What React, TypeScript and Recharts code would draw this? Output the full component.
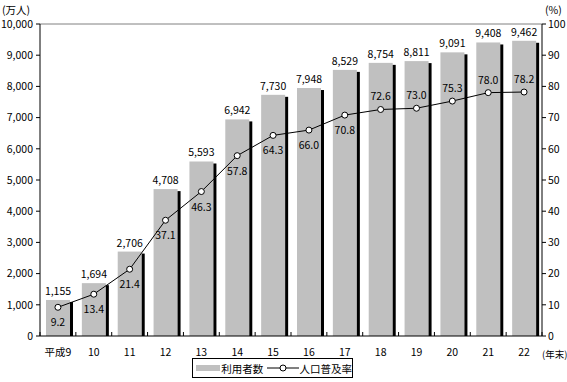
import { ComposedChart, Bar, Line, XAxis, YAxis, LabelList, ReferenceLine, Label } from 'recharts';

const years = ['平成9', '10', '11', '12', '13', '14', '15', '16', '17', '18', '19', '20', '21', '22'];
const users = [1155, 1694, 2706, 4708, 5593, 6942, 7730, 7948, 8529, 8754, 8811, 9091, 9408, 9462];
const rate = [9.2, 13.4, 21.4, 37.1, 46.3, 57.8, 64.3, 66.0, 70.8, 72.6, 73.0, 75.3, 78.0, 78.2];
const leftTicks = [0, 1000, 2000, 3000, 4000, 5000, 6000, 7000, 8000, 9000, 10000];
const rightTicks = [0, 10, 20, 30, 40, 50, 60, 70, 80, 90, 100];

const data = years.map((year, i) => ({ year, users: users[i], rate: rate[i] }));

const font = "'Noto Sans CJK JP', sans-serif";

const ShadowBar = (props: any) => {
    const { x, y, width, height } = props;
    if (!height || height <= 0) return null;
    return (
        <g>
            <rect x={x} y={y} width={width} height={height} fill="#c0c0c0" />
            <rect x={x + width} y={y + 2} width={3} height={height - 2} fill="#000" />
        </g>
    );
};

const XTick = (props: any) => {
    const { x, y, payload, index } = props;
    const off = payload && payload.offset ? payload.offset : 502 / 28;
    return (
        <g>
            {index === 0 && <line x1={x - off} y1={y} x2={x - off} y2={y - 4} stroke="#000" />}
            <line x1={x + off} y1={y} x2={x + off} y2={y - 4} stroke="#000" />
            <text x={x} y={y + 20} textAnchor="middle" fontSize={10.5} fontFamily={font} fill="#000">
                {payload.value}
            </text>
        </g>
    );
};

const RateLabel = (props: any) => {
    const { x, y, value, index } = props;
    const above = index >= 9;
    return (
        <text
            x={x}
            y={above ? y - 9 : y + 19}
            textAnchor="middle"
            fontSize={10.5}
            fontFamily={font}
            fill="#000"
        >
            {Number(value).toFixed(1)}
        </text>
    );
};

const LegendBox = () => (
    <div
        style={{
            position: 'absolute',
            left: 192,
            top: 358,
            border: '1px solid #000',
            width: 159,
            height: 18,
            display: 'flex',
            alignItems: 'center',
            fontFamily: font,
            fontSize: 10.5,
            whiteSpace: 'nowrap',
            background: '#fff',
            boxSizing: 'content-box',
        }}
    >
        <span style={{ display: 'inline-block', width: 25, height: 6, background: '#c0c0c0', marginLeft: 3 }} />
        <span style={{ marginLeft: 1 }}>利用者数</span>
        <svg width={32} height={10} style={{ marginLeft: 4 }}>
            <line x1={0} y1={5} x2={32} y2={5} stroke="#000" />
            <circle cx={16} cy={5} r={3} fill="#fff" stroke="#000" />
        </svg>
        <span style={{ marginLeft: 1 }}>人口普及率</span>
    </div>
);

export default function App() {
    return (
        <div style={{ position: 'absolute', left: 0, top: 0, width: 567, height: 382, background: '#fff' }}>
            <ComposedChart
                width={567}
                height={382}
                data={data}
                margin={{ top: 24, right: 0, bottom: 16, left: 0 }}
            >
                <XAxis
                    dataKey="year"
                    height={30}
                    tickSize={0}
                    tickMargin={0}
                    tickLine={false}
                    axisLine={{ stroke: '#000' }}
                    tick={<XTick />}
                    interval={0}
                >
                    <Label
                        content={(p: any) => (
                            <text
                                x={p.viewBox.x + p.viewBox.width}
                                y={p.viewBox.y + 22}
                                fontSize={9.5}
                                fontFamily={font}
                                fill="#000"
                            >
                                (年末)
                            </text>
                        )}
                    />
                </XAxis>
                <YAxis
                    yAxisId="left"
                    width={40}
                    domain={[0, 10000]}
                    ticks={leftTicks}
                    interval={0}
                    tickSize={4}
                    tickMargin={3}
                    axisLine={{ stroke: '#000' }}
                    tickLine={{ stroke: '#000' }}
                    tick={{ fontSize: 10.5, fontFamily: font, fill: '#000' }}
                    tickFormatter={(v: number) => v.toLocaleString('en-US')}
                >
                    <Label
                        content={(p: any) => (
                            <text x={2} y={p.viewBox.y - 10} fontSize={10.5} fontFamily={font} fill="#000">
                                (万人)
                            </text>
                        )}
                    />
                </YAxis>
                <YAxis
                    yAxisId="right"
                    orientation="right"
                    width={25}
                    domain={[0, 100]}
                    ticks={rightTicks}
                    interval={0}
                    tickSize={4}
                    tickMargin={2}
                    axisLine={{ stroke: '#000' }}
                    tickLine={{ stroke: '#000' }}
                    tick={{ fontSize: 10.5, fontFamily: font, fill: '#000', textAnchor: 'start' }}
                >
                    <Label
                        content={(p: any) => (
                            <text x={p.viewBox.x + 3} y={p.viewBox.y - 10} fontSize={10.5} fontFamily={font} fill="#000">
                                (%)
                            </text>
                        )}
                    />
                </YAxis>
                <ReferenceLine yAxisId="left" y={10000} stroke="#808080" />
                <Bar yAxisId="left" dataKey="users" barSize={24} shape={<ShadowBar />} isAnimationActive={false}>
                    <LabelList
                        dataKey="users"
                        position="top"
                        offset={5}
                        fontSize={10.5}
                        fontFamily={font}
                        fill="#000"
                        formatter={(v: any) => Number(v).toLocaleString('en-US')}
                    />
                </Bar>
                <Line
                    yAxisId="right"
                    dataKey="rate"
                    stroke="#000"
                    strokeWidth={1}
                    dot={{ r: 3, fill: '#fff', stroke: '#000', strokeWidth: 1 }}
                    activeDot={false}
                    isAnimationActive={false}
                >
                    <LabelList dataKey="rate" content={<RateLabel />} />
                </Line>
            </ComposedChart>
            <LegendBox />
        </div>
    );
}
